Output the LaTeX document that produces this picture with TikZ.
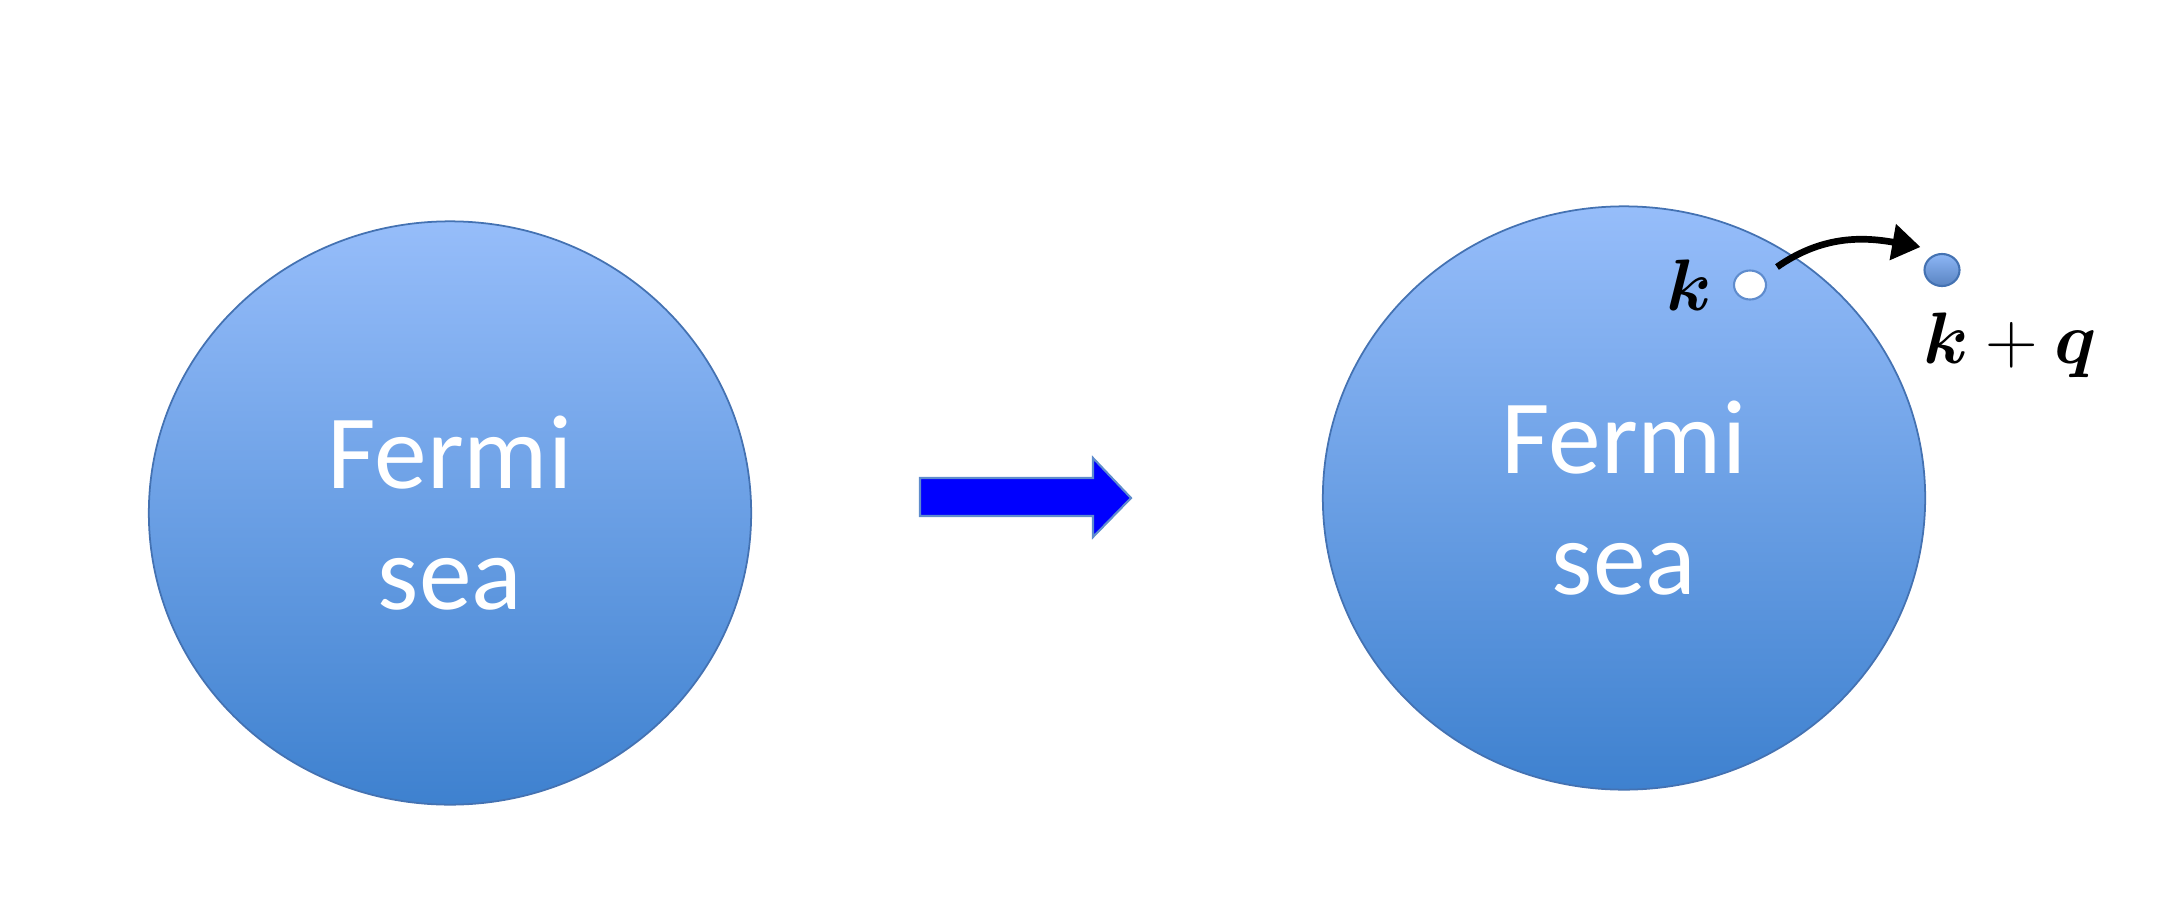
\documentclass[tikz,border=0pt]{standalone}
\usepackage{fontspec}
\usepackage{amsmath,bm}
\usetikzlibrary{shapes.geometric,arrows.meta,positioning}
\newfontfamily\seafont{Carlito}
\definecolor{seatop}{RGB}{150,189,250}
\definecolor{seabot}{RGB}{62,129,207}
\definecolor{searim}{RGB}{68,114,178}
\definecolor{pushblue}{RGB}{0,0,255}
\definecolor{pushrim}{RGB}{95,140,205}
\definecolor{dotblue}{RGB}{105,155,228}
\tikzset{
  sea/.style={ellipse,draw=searim,line width=0.5pt,top color=seatop,bottom color=seabot,
    minimum width=6.02cm,minimum height=5.83cm,inner sep=0pt,align=center,text=white,
    font=\seafont\fontsize{30}{34.5}\selectfont},
  dot/.style={ellipse,draw=pushrim,line width=0.6pt,inner sep=0pt},
  mom/.style={inner sep=0pt,font=\fontsize{22}{26}\selectfont},
  hop/.style={-{Triangle[length=8pt,width=10pt]},line width=1.9pt}
}
\begin{document}
\begin{tikzpicture}[x=0.01cm,y=-0.01cm]
      \useasboundingbox (0,0) rectangle (2176,915);
      \node[sea] (before) at (450,513) {Fermi\\sea};
      \node[sea] (after) at (1624,498) {Fermi\\sea};
      \draw[draw=pushrim,fill=pushblue,line width=0.6pt] (920,478) -- (1093,478) -- (1093,458) -- (1131,498)
        -- (1093,537) -- (1093,516) -- (920,516) -- cycle;
      \node[dot,fill=white,minimum width=0.32cm,minimum height=0.29cm] (hole) at (1750,285) {};
      \node[dot,draw=searim,top color=seatop!80!dotblue,bottom color=dotblue!85!black,
        minimum width=0.35cm,minimum height=0.32cm] (part) at (1942,270) {};
      \node[mom,left=0.2cm of hole] (k) {$\bm{k}$};
      \node[mom,below=0.25cm of part,xshift=0.68cm] (kq) {$\bm{k}+\bm{q}$};
      \draw[hop] ([shift={(27,-18)}]hole.center) to[out=35,in=170] ([shift={(-3,-23)}]part.west);
    \end{tikzpicture}
\end{document}
